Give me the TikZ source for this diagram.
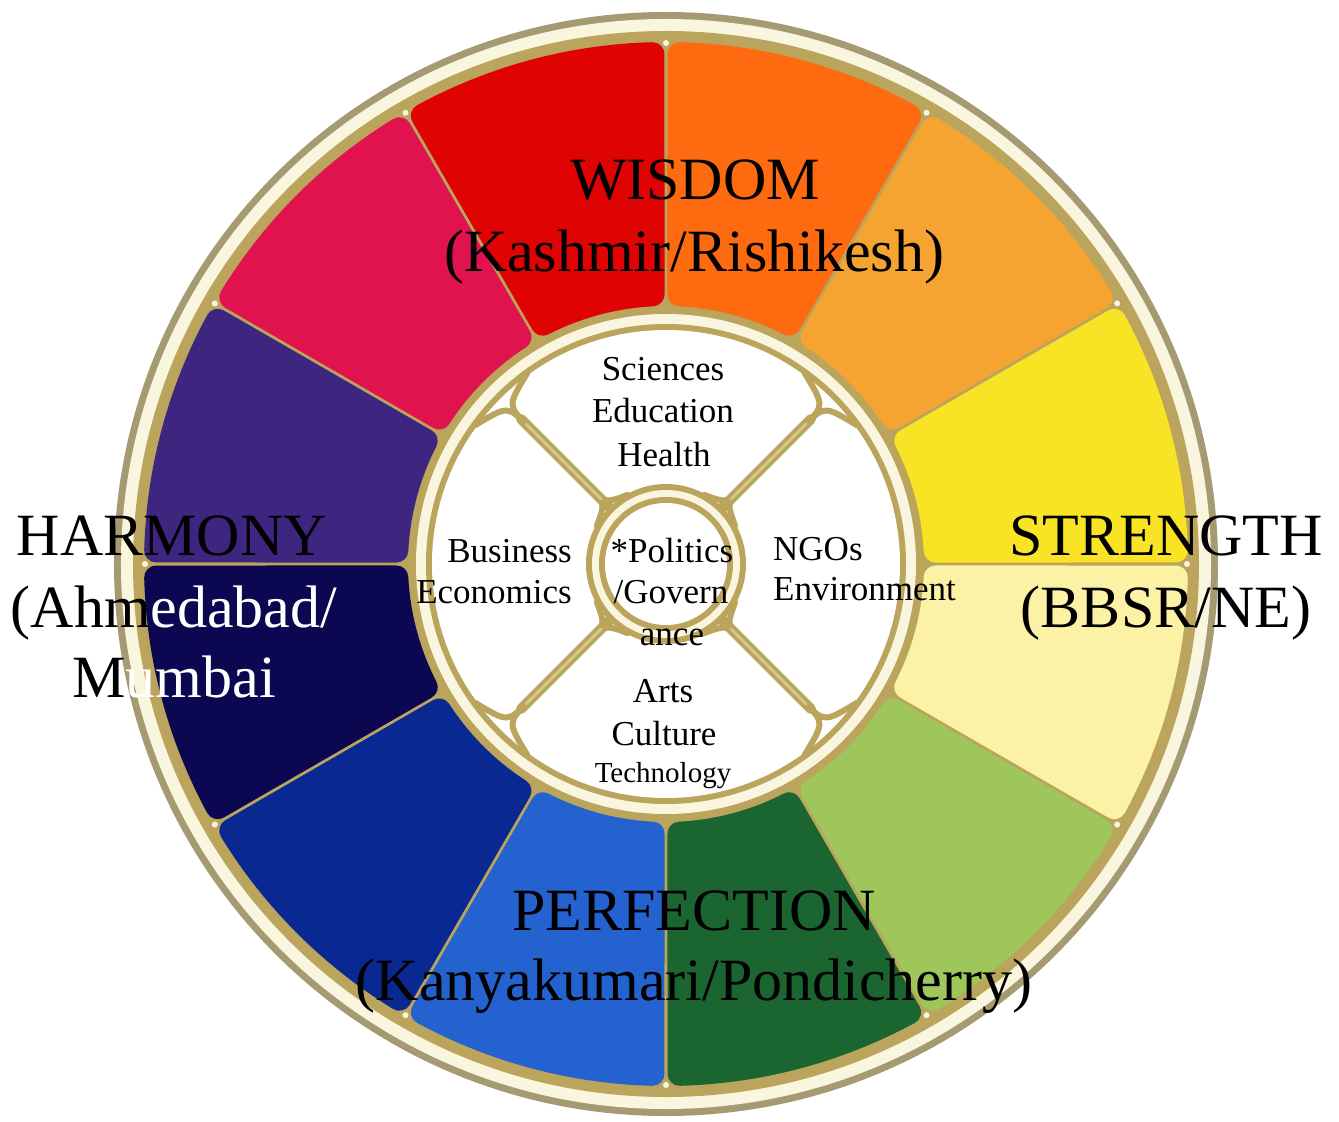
\documentclass[tikz,border=0pt]{standalone}
\usepackage{fontspec}
\setmainfont{Liberation Serif}
\usetikzlibrary{calc}
\definecolor{goldA}{HTML}{BBA45C}
\definecolor{goldB}{HTML}{A69A72}
\definecolor{goldL}{HTML}{D8C88E}
\definecolor{creamA}{HTML}{FAF5DE}
\definecolor{segRed}{HTML}{DF0303}
\definecolor{segOrange}{HTML}{FE6A10}
\definecolor{segLtOrange}{HTML}{F5A431}
\definecolor{segYellow}{HTML}{F8E424}
\definecolor{segPale}{HTML}{FBF2A6}
\definecolor{segLtGreen}{HTML}{9EC65B}
\definecolor{segDkGreen}{HTML}{1B6531}
\definecolor{segBlue}{HTML}{2462CF}
\definecolor{segDkBlue}{HTML}{0A2892}
\definecolor{segNavy}{HTML}{0B0851}
\definecolor{segPurple}{HTML}{3D2580}
\definecolor{segCrimson}{HTML}{E0134F}
\begin{document}
\begin{tikzpicture}[x=1pt,y=1pt,
  seg/.style={fill=#1,draw=#1,line width=24pt,line join=round},
  bigtext/.style={font=\fontsize{60}{72}\selectfont, inner sep=0pt, anchor=base},
  smalltext/.style={font=\fontsize{35}{42}\selectfont, inner sep=0pt, anchor=base},
  spoke/.style={draw=goldA, line width=10pt, line cap=round},
  spokehl/.style={draw=goldL, line width=2.5pt, line cap=round}]
\useasboundingbox (-666,-558) rectangle (673,564);
\fill[white] (-666,-558) rectangle (673,564);

% outer ring
\fill[goldB] (0,0) circle[radius=552];
\fill[creamA] (0,0) circle[radius=545];
\fill[goldA] (0,0) circle[radius=533];

% coloured segments
\foreach \a/\c in {90/segRed, 60/segOrange, 30/segLtOrange, 0/segYellow,
  -30/segPale, -60/segLtGreen, -90/segDkGreen, -120/segBlue,
  -150/segDkBlue, 180/segNavy, 150/segPurple, 120/segCrimson}{
  \pgfmathsetmacro\oa{\a+1.52}
  \pgfmathsetmacro\ob{\a+30-1.52}
  \pgfmathsetmacro\ia{\a+2.86}
  \pgfmathsetmacro\ib{\a+30-2.86}
  \path[seg=\c] (\oa:510) arc[start angle=\oa, end angle=\ob, radius=510]
     -- (\ib:270) arc[start angle=\ib, end angle=\ia, radius=270] -- cycle;
  \fill[creamA] (\a:521) circle[radius=3];
}

% inner ring
\fill[goldA] (0,0) circle[radius=257];
\fill[creamA] (0,0) circle[radius=250];
\fill[goldA] (0,0) circle[radius=240];
\fill[white] (0,0) circle[radius=234];

% spokes
\foreach \a in {45,135,225,315}{
  \pgfmathsetmacro\fa{\a+9}
  \pgfmathsetmacro\fb{\a-9}
  \pgfmathsetmacro\ga{\a+16}
  \pgfmathsetmacro\gb{\a-16}
  \draw[spoke] (\a:79) -- (\a:205);
  \draw[spoke,line width=6pt] (\a:196) .. controls (\a:224) .. (\fa:236);
  \draw[spoke,line width=6pt] (\a:196) .. controls (\a:224) .. (\fb:236);
  \draw[spoke,line width=6pt] (\a:108) .. controls (\a:86) .. (\ga:79);
  \draw[spoke,line width=6pt] (\a:108) .. controls (\a:86) .. (\gb:79);
  \draw[spokehl] (\a:92) -- (\a:198);
}

% central ring
\fill[goldA] (0,0) circle[radius=80];
\fill[creamA] (0,0) circle[radius=74];
\fill[goldA] (0,0) circle[radius=67];
\fill[white] (0,0) circle[radius=61];

% big labels
\node[bigtext] (wis1) at (29,364) {WISDOM};
\node[bigtext] (wis2) at (28,292) {(Kashmir/Rishikesh)};
\node[bigtext] (str1) at (500,9) {STRENGTH};
\node[bigtext] (str2) at (500,-63) {(BBSR/NE)};
\node[bigtext] (har1) at (-494,9) {HARMONY};
\node[bigtext] (har2) at (-492,-63) {(Ahm\textcolor{white}{edabad/}};
\node[bigtext] (har3) at (-492,-133) {M\textcolor{white}{umbai}};
\node[bigtext] (per1) at (28,-366) {PERFECTION};
\node[bigtext] (per2) at (28,-436) {(Kanyakumari/Pondicherry)};

% inner labels
\node[smalltext] (sci) at (-3,183) {Sciences};
\node[smalltext] (edu) at (-3,141) {Education};
\node[smalltext] (hea) at (-2,98) {Health};
\node[smalltext,anchor=base east] (bus) at (-94,2) {Business};
\node[smalltext,anchor=base east] (eco) at (-94,-39) {Economics};
\node[smalltext] (pol1) at (6,2) {*Politics};
\node[smalltext] (pol2) at (5,-39) {/Govern};
\node[smalltext] (pol3) at (6,-81) {ance};
\node[smalltext,anchor=base west] (ngo) at (107,4) {NGOs};
\node[smalltext,anchor=base west] (env) at (107,-36) {Environment};
\node[smalltext] (art) at (-3,-138) {Arts};
\node[smalltext] (cul) at (-2,-181) {Culture};
\node[smalltext,font=\fontsize{29}{34}\selectfont] (tec) at (-3,-218) {Technology};
\end{tikzpicture}
\end{document}
